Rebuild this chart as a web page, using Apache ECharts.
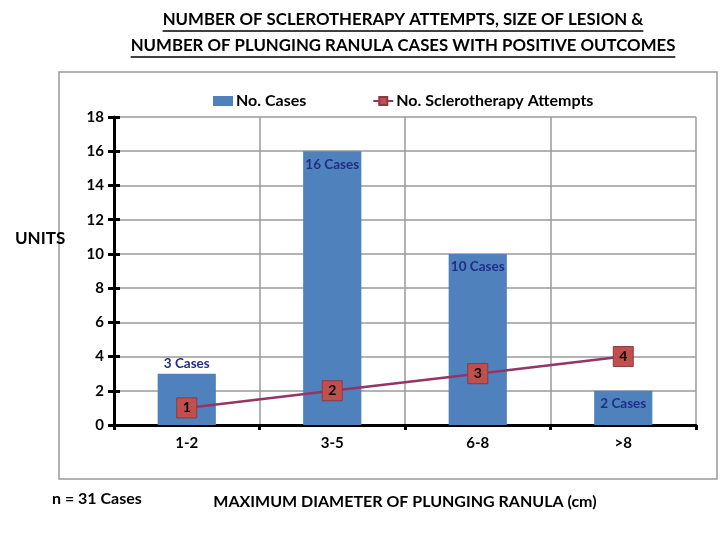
<!DOCTYPE html>
<html>
<head>
    <meta charset="utf-8">
    <title>Plunging ranula</title>
    <script src="https://cdn.jsdelivr.net/npm/echarts@6/dist/echarts.min.js"></script>
    <style>
      html, body { margin: 0; padding: 0; background: #fff; }
      #main { width: 720px; height: 540px; }
    </style>
</head>
<body>
    <div id="main"></div>
    <script type="text/javascript">
      // data
      var categories = ['1-2', '3-5', '6-8', '>8'];
      var caseCounts = [3, 16, 10, 2];
      var attempts = [1, 2, 3, 4];
      var yTicks = [0, 2, 4, 6, 8, 10, 12, 14, 16, 18];

      var titleLines = [
        'NUMBER OF SCLEROTHERAPY ATTEMPTS, SIZE OF LESION &',
        'NUMBER OF PLUNGING RANULA CASES WITH POSITIVE OUTCOMES'
      ];

      var FONT = 'Lato, "Noto Sans", sans-serif';
      var titleFont = 'bold 16.8px ' + FONT;

      // measure title width so underline fits the text
      var ctx = document.createElement('canvas').getContext('2d');
      ctx.font = titleFont;

      var graphics = [
        // outer frame of the chart area
        {
          type: 'rect',
          shape: { x: 59, y: 72, width: 658, height: 407 },
          style: { fill: 'none', stroke: '#9a9a9a', lineWidth: 1.5 },
          z: -1
        },
        {
          type: 'text', left: 15, top: 230,
          style: { text: 'UNITS', font: 'bold 17px ' + FONT, fill: '#000' }
        },
        {
          type: 'text', left: 52, top: 491,
          style: { text: 'n = 31 Cases', font: 'bold 16px ' + FONT, fill: '#000' }
        }
      ];
      titleLines.forEach(function (t, i) {
        var w = ctx.measureText(t).width;
        var cy = 20 + i * 26;
        graphics.push({
          type: 'text', x: 403, y: cy,
          style: { text: t, font: titleFont, fill: '#000', align: 'center', verticalAlign: 'middle' }
        });
        graphics.push({
          type: 'line',
          shape: { x1: 403 - w / 2, y1: cy + 11, x2: 403 + w / 2, y2: cy + 11 },
          style: { stroke: '#000', lineWidth: 1.5 }
        });
      });

      var myChart = echarts.init(document.getElementById('main'));
      var option = {
        animation: false,
        textStyle: { fontFamily: FONT },
        graphic: graphics,
        legend: {
          top: 88,
          left: 208,
          itemGap: 66,
          itemWidth: 20,
          itemHeight: 10,
          textStyle: { fontSize: 16, fontWeight: 'bold', color: '#000', padding: [0, 0, 0, -2] },
          data: [
            { name: 'No. Cases', icon: 'rect' },
            { name: 'No. Sclerotherapy Attempts' }
          ]
        },
        grid: { left: 114, right: 24, top: 117, bottom: 115 },
        xAxis: {
          type: 'category',
          data: categories,
          name: 'MAXIMUM DIAMETER OF PLUNGING RANULA (cm)',
          nameLocation: 'middle',
          nameGap: 69,
          nameTextStyle: { fontSize: 16, fontWeight: 'bold', color: '#000' },
          axisLine: { lineStyle: { color: '#000', width: 3 } },
          axisTick: { show: true, length: 5, lineStyle: { color: '#000', width: 3 } },
          axisLabel: { fontSize: 15, fontWeight: 'bold', color: '#000', margin: 11 },
          splitLine: { show: true, lineStyle: { color: '#9a9a9a', width: 1.5 } }
        },
        yAxis: [
          {
            type: 'value',
            min: yTicks[0],
            max: yTicks[yTicks.length - 1],
            interval: 2,
            axisLine: { show: true, lineStyle: { color: '#000', width: 3 } },
            axisTick: { show: true, length: 6, lineStyle: { color: '#000', width: 3 } },
            axisLabel: { fontSize: 15, fontWeight: 'bold', color: '#000', margin: 10 },
            splitLine: { show: true, lineStyle: { color: '#9a9a9a', width: 1.5 } }
          },
          {
            type: 'value',
            position: 'left',
            min: yTicks[0],
            max: yTicks[yTicks.length - 1],
            interval: 2,
            axisLine: { show: false },
            axisTick: { show: true, inside: true, length: 6, lineStyle: { color: '#000', width: 3 } },
            axisLabel: { show: false },
            splitLine: { show: false }
          }
        ],
        series: [
          {
            name: 'No. Cases',
            type: 'bar',
            barWidth: '40%',
            itemStyle: { color: '#4f81bd' },
            label: {
              show: true,
              position: 'insideTop',
              distance: 6,
              formatter: '{c} Cases',
              fontSize: 13.5,
              fontWeight: 'bold',
              color: '#1f2f86'
            },
            data: caseCounts.map(function (v, i) {
              return i === 0 ? { value: v, label: { position: 'top', distance: 3 } } : v;
            })
          },
          {
            name: 'No. Sclerotherapy Attempts',
            type: 'line',
            data: attempts,
            symbol: 'rect',
            symbolSize: 20,
            lineStyle: { color: '#953565', width: 2.5 },
            itemStyle: { color: '#c0504d', borderColor: '#8c3845', borderWidth: 1 },
            label: {
              show: true,
              position: 'inside',
              fontSize: 14,
              fontWeight: 'bold',
              color: '#000'
            },
            z: 5
          }
        ]
      };
      myChart.setOption(option);
    </script>
</body>
</html>
